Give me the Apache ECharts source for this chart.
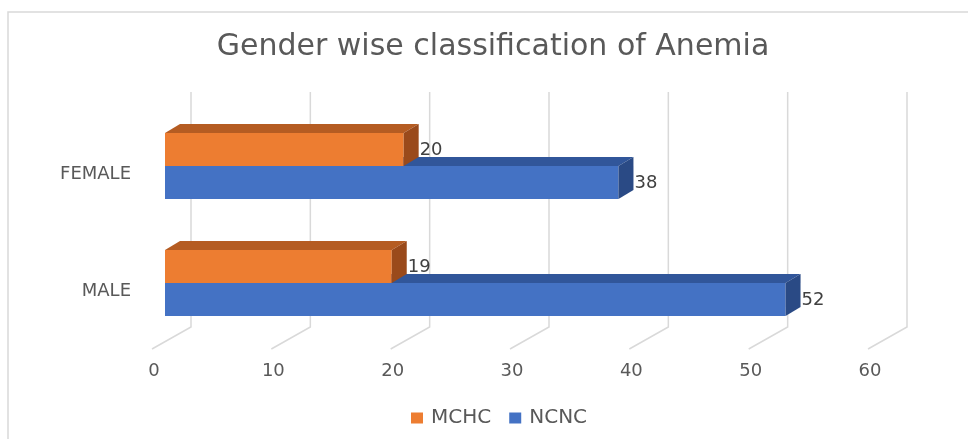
<!DOCTYPE html>
<html>
<head>
<meta charset="utf-8">
<title>Gender wise classification of Anemia</title>
<script src="https://cdn.jsdelivr.net/npm/echarts@6/dist/echarts.min.js"></script>
<style>
html, body { margin: 0; padding: 0; background: #fff; }
#chart { width: 968px; height: 439px; }
</style>
</head>
<body>
<div id="chart"></div>
<script>
var categories = ['MALE', 'FEMALE'];
var mchc = [19, 20];
var ncnc = [52, 38];
var ticks = [0, 10, 20, 30, 40, 50, 60];

var BAR = 33;          // bar thickness
var DX = 15, DY = 9;   // depth of the bar top / side faces
var FONT = 'DejaVu Sans';

// 3d looking bar: front face + top + right side
function bar3d(front, top, side, above) {
  return function (params, api) {
    var cat = api.value(0);
    var x0 = api.coord([0, cat])[0];
    var p = api.coord([api.value(1), cat]);
    var x1 = p[0];
    var y0 = above ? p[1] - BAR : p[1];
    var y1 = y0 + BAR;
    return {
      type: 'group',
      children: [
        { type: 'rect', shape: { x: x0, y: y0, width: x1 - x0, height: BAR }, style: { fill: front } },
        { type: 'polygon', shape: { points: [[x0, y0], [x1, y0], [x1 + DX, y0 - DY], [x0 + DX, y0 - DY]] }, style: { fill: top } },
        { type: 'polygon', shape: { points: [[x1, y0], [x1 + DX, y0 - DY], [x1 + DX, y1 - DY], [x1, y1]] }, style: { fill: side } },
        { type: 'text', x: x1 + DX + 1, y: y0 + BAR / 2 + 1,
          style: { text: String(api.value(1)), align: 'left', verticalAlign: 'middle', fill: '#404040', fontSize: 18, fontFamily: FONT } }
      ]
    };
  };
}

// back wall lines + floor lines
function gridLines(params, api) {
  var cs = params.coordSys;
  var xb = api.coord([api.value(0), 0])[0] + 26;
  var yTop = cs.y - 15.5;
  var yBot = cs.y + cs.height - 14.5;
  return {
    type: 'polyline',
    shape: { points: [[xb, yTop], [xb, yBot], [xb - 39, yBot + 22]] },
    style: { stroke: '#D9D9D9', lineWidth: 1.5, fill: null }
  };
}

var myChart = echarts.init(document.getElementById('chart'));
myChart.setOption({
  animation: false,
  title: {
    text: 'Gender wise classification of Anemia',
    left: 493,
    textAlign: 'center',
    top: 32,
    padding: 0,
    textStyle: { fontFamily: FONT, fontSize: 30, fontWeight: 'normal', color: '#595959' }
  },
  legend: {
    data: ['MCHC', 'NCNC'],
    left: 406,
    top: 403,
    icon: 'rect',
    itemWidth: 12,
    itemHeight: 11,
    itemGap: 18,
    textStyle: { fontFamily: FONT, fontSize: 20, color: '#595959', padding: [0, 0, 0, 3] }
  },
  graphic: [{
    type: 'rect',
    shape: { x: 8, y: 12, width: 1000, height: 500 },
    style: { fill: null, stroke: '#D9D9D9', lineWidth: 1.5 },
    silent: true
  }],
  grid: { left: 165, right: 87, top: 107.5, bottom: 97.5 },
  xAxis: {
    type: 'value',
    min: 0,
    max: 60,
    interval: 10,
    axisLine: { show: false },
    axisTick: { show: false },
    splitLine: { show: false },
    axisLabel: { margin: 21, padding: [0, 22, 0, 0], color: '#595959', fontSize: 18, fontFamily: FONT }
  },
  yAxis: {
    type: 'category',
    data: categories,
    axisLine: { show: false },
    axisTick: { show: false },
    axisLabel: { margin: 34, verticalAlign: 'top', lineHeight: 16, color: '#595959', fontSize: 18, fontFamily: FONT }
  },
  series: [
    {
      name: 'grid',
      type: 'custom',
      silent: true,
      z: 1,
      renderItem: gridLines,
      encode: { x: 0, y: 1 },
      data: ticks.map(function (t) { return [t, 0]; })
    },
    {
      name: 'NCNC',
      type: 'custom',
      z: 2,
      itemStyle: { color: '#4472C4' },
      renderItem: bar3d('#4472C4', '#31569A', '#2A4A85', false),
      encode: { x: 1, y: 0 },
      data: ncnc.map(function (v, i) { return [i, v]; })
    },
    {
      name: 'MCHC',
      type: 'custom',
      z: 3,
      itemStyle: { color: '#ED7D31' },
      renderItem: bar3d('#ED7D31', '#B55C22', '#9A4A1B', true),
      encode: { x: 1, y: 0 },
      data: mchc.map(function (v, i) { return [i, v]; })
    }
  ]
});
</script>
</body>
</html>
